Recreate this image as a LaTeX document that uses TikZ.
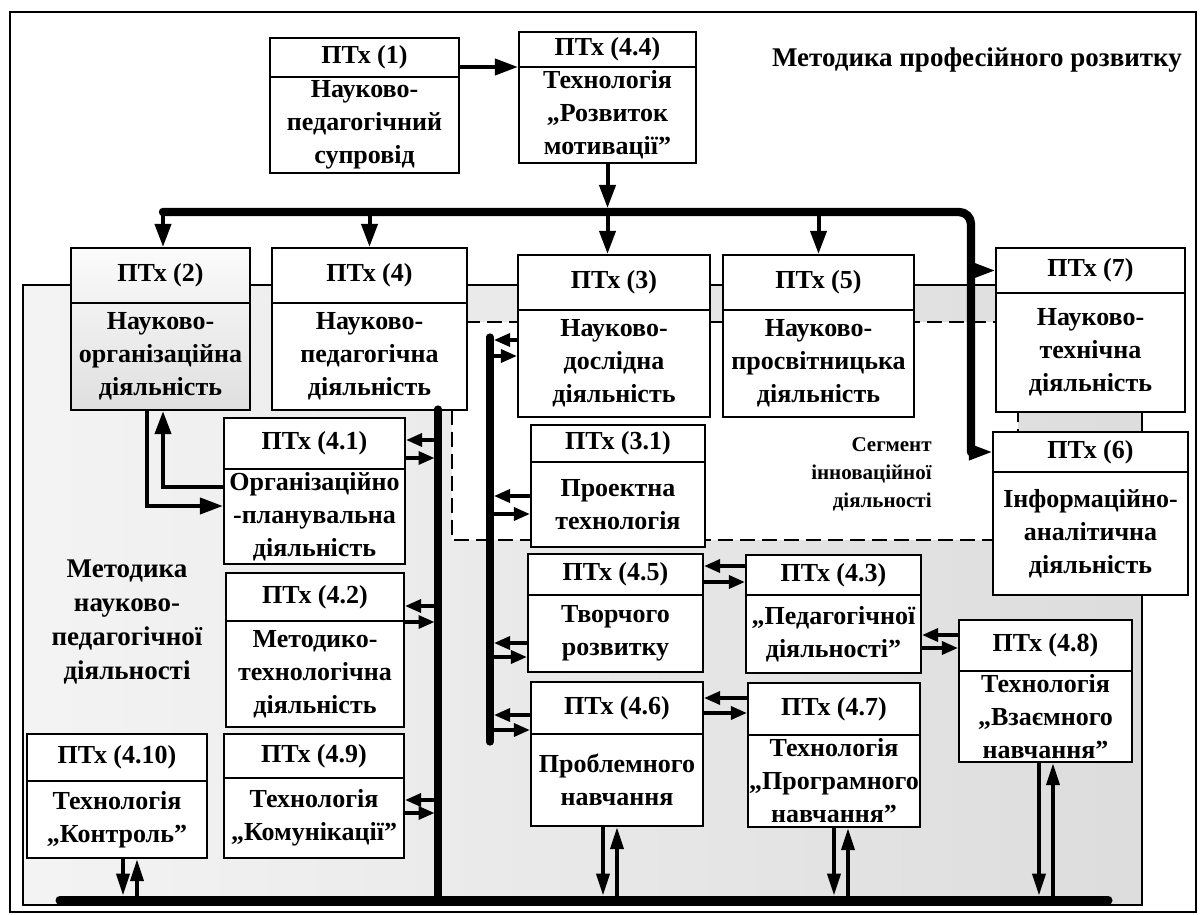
\documentclass[tikz,border=0pt]{standalone}
\usepackage{fontspec}
\setmainfont{Liberation Serif}
\usetikzlibrary{arrows.meta,fit,calc}

\tikzset{
  boxline/.style={line width=1.1pt},
  ptbox/.style={draw, boxline, fill=white, inner sep=0pt},
  boxtext/.style={font=\bfseries\fontsize{13}{16.5}\selectfont, align=center, inner sep=0pt},
  titletext/.style={font=\bfseries\fontsize{13.5}{17}\selectfont, inner sep=0pt},
  segtext/.style={font=\bfseries\fontsize{10.5}{14}\selectfont, inner sep=0pt},
  bus/.style={line width=3.6pt, line cap=round},
  arr/.style={line width=2pt, -{Triangle[length=11.5pt,width=8pt]}},
  parr/.style={line width=1.7pt, -{Triangle[length=8pt,width=6.5pt]}},
  varr/.style={line width=1.9pt, -{Triangle[length=11pt,width=6.5pt]}},
}

% box with header: [style]{name}{x1}{y1}{x2}{y divider}{y2}{header}{body}
\newcommand{\ptx}[9][]{%
  \node[ptbox, #1, fit={(#3,#4) (#5,#7)}] (#2) {};
  \draw[boxline] (#2.west |- 0,#6) -- (#2.east |- 0,#6);
  \node[boxtext] (#2-h) at ({(#3+#5)/2},{(#4+#6)/2}) {#8};
  \node[boxtext] (#2-b) at ({(#3+#5)/2},{(#6+#7)/2}) {#9};
}
% pair of arrows: {left}{right}{upper y}{lower y}
\newcommand{\biarrow}[4]{%
  \draw[parr] (#2 |- 0,#3) -- (#1 |- 0,#3);
  \draw[parr] (#1 |- 0,#4) -- (#2 |- 0,#4);
}
% pair of arrows to bottom bus: {box}{x down}{x up}
\newcommand{\vbiarrow}[3]{%
  \draw[varr] (#2,0 |- #1.south) -- (#2,0 |- bbusN);
  \draw[varr] (#3,0 |- bbusN) -- (#3,0 |- #1.south);
}

\begin{document}
\begin{tikzpicture}[x=0.5pt,y=-0.5pt]
\useasboundingbox (0,0) rectangle (1200,915);

% Drawing frame and areas
\draw[line width=1.2pt] (10,12) rectangle (1196,912);
\draw[line width=0.8pt, left color=gray!9, middle color=gray!22, right color=gray!27] (23,285) rectangle (1142,905);
\draw[line width=1.2pt, dash pattern=on 7.5pt off 3.5pt, fill=white] (452,322) rectangle (1018,540);

% Drawing labels
\node[titletext] (tmpr) at (977,60) {Методика професійного розвитку};
\node[titletext, align=center] (tmnpd) at (127,622) {Методика\\науково-\\педагогічної\\діяльності};
\node[segtext, align=right, anchor=east] (tseg) at (932,474) {Сегмент\\інноваційної\\діяльності};

% Drawing boxes
\ptx{b1}{270}{38}{459}{77}{173}{ПТх (1)}{Науково-\\педагогічний\\супровід}
\ptx{b44}{519}{32}{696}{67}{163}{ПТх (4.4)}{Технологія\\„Розвиток\\мотивації”}
\ptx[top color=gray!3, bottom color=gray!25]{b2}{71}{248}{250}{303}{410}{ПТх (2)}{Науково-\\організаційна\\діяльність}
\ptx{b4}{272}{248}{467}{303}{410}{ПТх (4)}{Науково-\\педагогічна\\діяльність}
\ptx{b3}{518}{255}{710}{310}{417}{ПТх (3)}{Науково-\\дослідна\\діяльність}
\ptx{b5}{723}{255}{914}{310}{417}{ПТх (5)}{Науково-\\просвітницька\\діяльність}
\ptx{b7}{996}{248}{1185}{293}{412}{ПТх (7)}{Науково-\\технічна\\діяльність}
\ptx{b6}{993}{432}{1188}{472}{595}{ПТх (6)}{Інформаційно-\\аналітична\\діяльність}
\ptx{b31}{531}{425}{705}{462}{547}{ПТх (3.1)}{Проектна\\технологія}
\ptx{b41}{224}{418}{405}{469}{564}{ПТх (4.1)}{Організаційно\\-планувальна\\діяльність}
\ptx{b42}{226}{573}{404}{621}{727}{ПТх (4.2)}{Методико-\\технологічна\\діяльність}
\ptx{b49}{224}{734}{404}{778}{858}{ПТх (4.9)}{Технологія\\„Комунікації”}
\ptx{b410}{27}{734}{207}{781}{858}{ПТх (4.10)}{Технологія\\„Контроль”}
\ptx{b45}{528}{554}{703}{595}{672}{ПТх (4.5)}{Творчого\\розвитку}
\ptx{b43}{746}{555}{921}{595}{673}{ПТх (4.3)}{„Педагогічної\\діяльності”}
\ptx{b46}{531}{682}{703}{734}{826}{ПТх (4.6)}{Проблемного\\навчання}
\ptx{b47}{748}{683}{920}{735}{827}{ПТх (4.7)}{Технологія\\„Програмного\\навчання”}
\ptx{b48}{959}{620}{1132}{671}{762}{ПТх (4.8)}{Технологія\\„Взаємного\\навчання”}

% Drawing buses
\coordinate (busL) at (163,212);
\coordinate (busR) at (971,212);
\coordinate (lbusT) at (438,409);
\coordinate (lbusW) at (434.5,409);
\coordinate (mbusT) at (490,337);
\coordinate (mbusE) at (494,337);
\coordinate (bbusL) at (60,900);
\coordinate (bbusR) at (1108,900);
\coordinate (bbusN) at (0,895.5);
\draw[bus, line width=4.2pt, rounded corners=6pt] (busL) -- (busR) -- (busR |- b6-h);
\draw[bus] (lbusT) -- (lbusT |- bbusL);
\draw[bus] (mbusT) -- (490,742);
\draw[bus, line width=4.5pt] (bbusL) -- (bbusR);

% Drawing arrows
\draw[arr] (b1.east |- 0,67) -- (b44.west |- 0,67);
\draw[arr, shorten >=2pt] (b44.south) -- (b44.south |- busL);
\draw[arr] (b44.south |- busL) -- (b44.south |- b3.north);
\draw[arr] (busL) -- (busL |- b2.north);
\draw[arr] (b4.north |- busL) -- (b4.north);
\draw[arr] (b5.north |- busL) -- (b5.north);
\draw[arr] (busR |- b7-h) -- (b7.west |- b7-h);
\draw[arr] (busR |- b6-h) -- (b6.west |- b6-h);
\draw[arr] (147,0 |- b2.south) |- (b41.west |- 0,506);
\draw[arr] (b41.west |- 0,487) -| (163,0 |- b2.south);

\biarrow{b41.east}{lbusW}{440}{458}
\biarrow{b42.east}{lbusW}{606}{622}
\biarrow{b49.east}{lbusW}{800}{813}
\biarrow{mbusE}{b3.west}{340}{356}
\biarrow{mbusE}{b31.west}{496}{514}
\biarrow{mbusE}{b45.west}{643}{657}
\biarrow{mbusE}{b46.west}{715}{730}
\biarrow{b45.east}{b43.west}{566}{582}
\biarrow{b46.east}{b47.west}{698}{713}
\biarrow{b43.east}{b48.west}{635}{648}

\vbiarrow{b410}{123}{137}
\vbiarrow{b46}{603}{617}
\vbiarrow{b47}{834}{848}
\vbiarrow{b48}{1039}{1053}
\end{tikzpicture}
\end{document}
